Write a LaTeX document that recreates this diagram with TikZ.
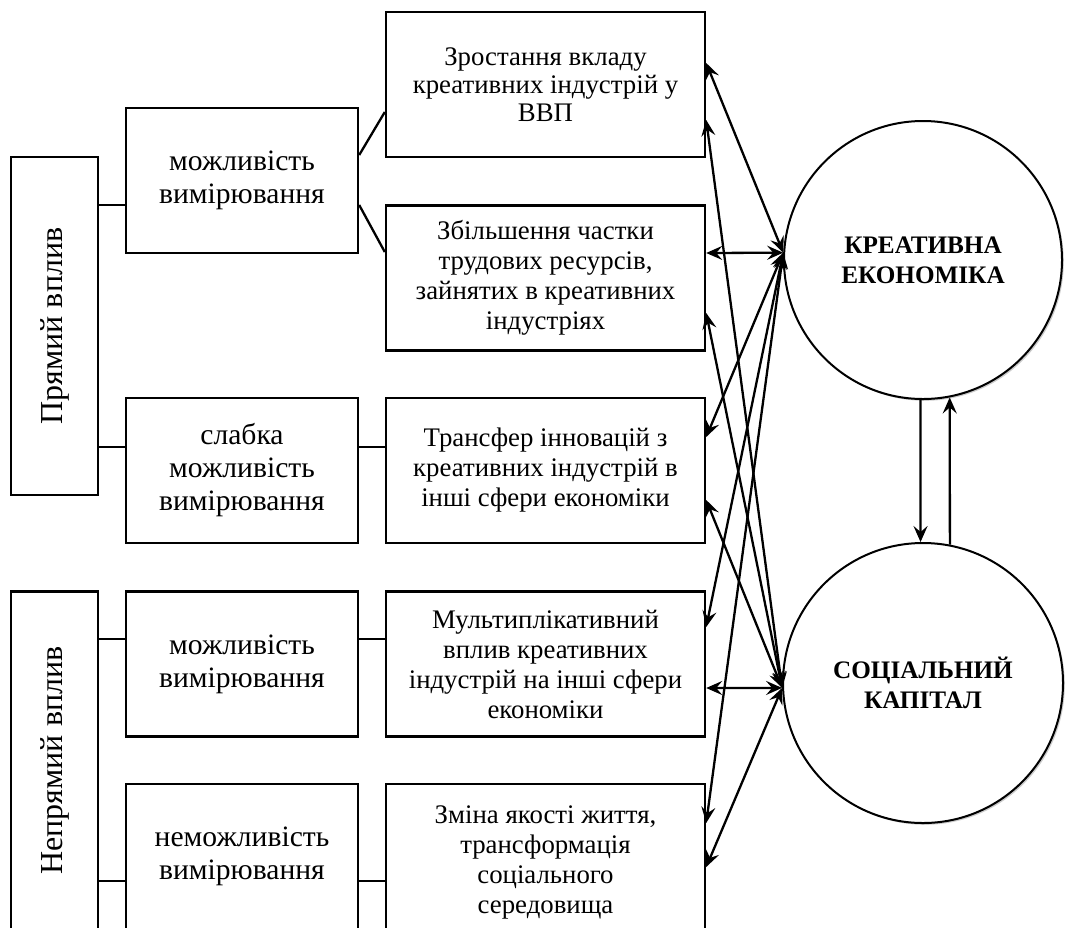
\documentclass[tikz,border=0pt]{standalone}
\usepackage{fontspec}
\setmainfont{Liberation Serif}
\usetikzlibrary{arrows.meta,shadows}

\tikzset{
  box/.style={draw, line width=1.2pt, minimum width=159.5pt, minimum height=72.5pt, align=center, inner sep=2pt, font=\fontsize{13.4}{15}\selectfont},
  kind/.style={box, minimum width=116pt, font=\fontsize{14.8}{16.5}\selectfont},
  side/.style={draw, line width=1.2pt, rotate=90, minimum width=169pt, minimum height=43.5pt, font=\fontsize{16}{19}\selectfont},
  sphere/.style={draw, circle, line width=1pt, fill=white, minimum size=139pt, align=center, font=\bfseries\fontsize{12.6}{15}\selectfont, drop shadow={shadow xshift=0.9pt, shadow yshift=-0.9pt, fill=black!40}},
  link/.style={{Stealth[length=8pt,width=7pt,inset=3pt]}-{Stealth[length=8pt,width=7pt,inset=3pt]}, line width=1.15pt},
  flow/.style={-{Stealth[length=8pt,width=7pt,inset=3pt]}, line width=1.15pt},
  tie/.style={line width=1.15pt}
}

\begin{document}
\begin{tikzpicture}[x=0.5pt, y=-0.5pt]
\useasboundingbox (0,0) rectangle (1075,927);
\clip (0,0) rectangle (1075,927);

\node[side] (dir) at (54.5,326) {Прямий вплив};
\node[side] (ind) at (54.5,760.5) {Непрямий вплив};

\node[kind] (mozh1) at (242,180.5) {можливість\\вимірювання};
\node[kind] (slabka) at (242,470.5) {слабка\\можливість\\вимірювання};
\node[kind] (mozh2) at (242,664) {можливість\\вимірювання};
\node[kind] (nemozh) at (242,856.5) {неможливість\\вимірювання};

\node[box, font=\fontsize{13.4}{14}\selectfont] (zrost) at (545.5,84.5) {Зростання вкладу\\креативних індустрій у\\ВВП};
\node[box] (zbilsh) at (545.5,278) {Збільшення частки\\трудових ресурсів,\\зайнятих в креативних\\індустріях};
\node[box] (transfer) at (545.5,470.5) {Трансфер інновацій з\\креативних індустрій в\\інші сфери економіки};
\node[box] (multi) at (545.5,664) {Мультиплікативний\\вплив креативних\\індустрій на інші сфери\\економіки};
\node[box, minimum height=78pt] (zmina) at (545.5,862) {Зміна якості життя,\\трансформація\\соціального\\середовища};

\node[sphere] (kreat) at (923,260) {КРЕАТИВНА\\ЕКОНОМІКА};
\node[sphere, minimum size=140pt] (social) at (923,683) {СОЦІАЛЬНИЙ\\КАПІТАЛ};

\draw[tie] ([yshift=-12.25pt]mozh1.west) -- ++(-28,0);
\draw[tie] ([yshift=11.75pt]slabka.west) -- ++(-28,0);
\draw[tie] ([yshift=12.5pt]mozh2.west) -- ++(-28,0);
\draw[tie] ([yshift=-12.25pt]nemozh.west) -- ++(-28,0);

\draw[tie] ([yshift=12.75pt]mozh1.east) -- ([yshift=-13.75pt]zrost.west);
\draw[tie] ([yshift=-12.25pt]mozh1.east) -- ([yshift=13pt]zbilsh.west);
\draw[tie] ([yshift=11.75pt]slabka.east) -- ([yshift=11.75pt]transfer.west);
\draw[tie] ([yshift=12.5pt]mozh2.east) -- ([yshift=12.5pt]multi.west);
\draw[tie] ([yshift=-12.25pt]nemozh.east) -- ([yshift=-9.5pt]zmina.west);

\foreach \b/\s in {zrost/10.75, zbilsh/12.5, transfer/16.75, multi/18.5, zmina/19.5}
	\draw[link] ([yshift=\s pt]\b.east) -- (kreat.177);
\foreach \b/\s in {zrost/-17.75, zbilsh/-17.5, transfer/-14.75, multi/-12, zmina/-2.5}
	\draw[link] ([yshift=\s pt]\b.east) -- (social.182);

\draw[flow] (kreat.-91.6) -- (social.91.6);
\draw[flow] (social.79.6) -- (kreat.-79.6);
\end{tikzpicture}
\end{document}
